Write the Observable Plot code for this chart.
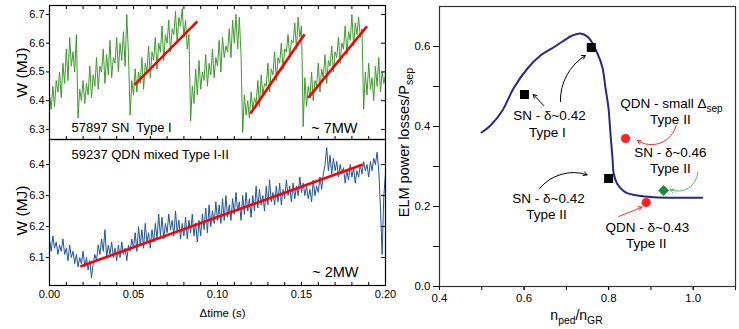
<!DOCTYPE html>
<html><head><meta charset="utf-8">
<script src="https://cdn.jsdelivr.net/npm/d3@7"></script>
<script src="https://cdn.jsdelivr.net/npm/@observablehq/plot@0.6"></script>
<style>
html,body{margin:0;padding:0;background:#fff;}
#chart{position:relative;width:739px;height:329px;overflow:hidden;font-family:"Liberation Sans",Arial,Helvetica,sans-serif;}
#chart svg{position:absolute;overflow:visible;}
</style></head><body><div id="chart"></div>
<script>
// ---------------- data ----------------
// stored energy traces, sampled every 1 ms from Δtime = 0
const sampleStep = 0.001;
const wTypeI = [
 6.42,6.37,6.45,6.38,6.47,6.43,6.50,6.41,6.53,6.46,6.58,6.47,6.62,6.52,6.57,6.50,6.63,6.34,
 6.44,6.40,6.47,6.39,6.46,6.42,6.52,6.41,6.49,6.45,6.55,6.44,6.52,6.50,6.58,6.46,6.56,6.49,6.61,6.48,6.55,6.53,6.62,6.50,6.60,6.54,6.64,6.52,6.70,6.56,
 6.35,
 6.47,6.42,6.51,6.43,6.50,6.46,6.55,6.44,6.53,6.50,6.59,6.48,6.57,6.54,6.62,6.51,6.60,6.57,6.66,6.54,6.63,6.60,6.68,6.57,6.65,6.63,6.71,6.60,6.69,6.66,6.72,6.62,6.68,6.58,6.63,
 6.33,
 6.45,6.39,6.51,6.42,6.54,6.44,6.50,6.47,6.56,6.45,6.53,6.49,6.58,6.48,6.55,6.52,6.61,6.50,6.62,6.55,6.59,6.57,6.65,6.55,6.68,6.60,6.70,6.58,6.69,6.56,
 6.29,
 6.42,6.35,6.40,6.34,6.43,6.37,6.41,6.39,6.47,6.38,6.49,6.42,6.46,6.45,6.53,6.43,6.51,6.49,6.57,6.47,6.55,6.53,6.60,6.51,6.58,6.57,6.63,6.55,6.61,6.60,6.67,6.58,6.69,6.62,6.66,
 6.31,
 6.48,6.38,6.45,6.41,6.50,6.40,6.47,6.45,6.53,6.43,6.51,6.48,6.56,6.46,6.54,6.52,6.59,6.50,6.57,6.55,6.62,6.53,6.60,6.58,6.66,6.56,6.64,6.61,6.70,6.59,6.67,6.63,6.69,6.62,6.65,
 6.37,
 6.50,6.42,6.53,6.44,6.48,6.40,6.52,6.45,6.55,6.43,6.50,6.46,6.49];
const wMixed = [
 6.16,6.12,6.17,6.13,6.15,6.11,6.14,6.12,6.16,6.11,
 6.13,6.09,6.14,6.10,6.12,6.08,6.11,6.07,6.10,6.08,
 6.12,6.07,6.10,6.06,6.09,6.035,6.08,6.11,6.09,6.14,
 6.11,6.16,6.12,6.19,6.10,6.14,6.11,6.15,6.10,6.13,
 6.09,6.14,6.10,6.15,6.11,6.13,6.09,6.14,6.12,6.16,
 6.13,6.18,6.12,6.20,6.14,6.19,6.13,6.21,6.15,6.18,
 6.13,6.19,6.15,6.21,6.16,6.24,6.17,6.23,6.16,6.21,
 6.18,6.24,6.19,6.22,6.17,6.25,6.18,6.22,6.16,6.21,
 6.17,6.23,6.16,6.22,6.18,6.24,6.17,6.21,6.15,6.22,
 6.17,6.24,6.19,6.26,6.18,6.27,6.20,6.25,6.21,6.28,
 6.22,6.27,6.21,6.29,6.22,6.30,6.23,6.27,6.22,6.29,
 6.24,6.31,6.25,6.28,6.22,6.30,6.24,6.31,6.25,6.29,
 6.23,6.30,6.25,6.33,6.26,6.32,6.27,6.30,6.25,6.33,
 6.27,6.35,6.28,6.31,6.27,6.33,6.28,6.34,6.27,6.32,
 6.29,6.35,6.30,6.33,6.28,6.34,6.29,6.33,6.30,6.36,
 6.31,6.34,6.30,6.33,6.29,6.32,6.28,6.35,6.30,6.33,
 6.31,6.36,6.32,6.37,6.40,6.455,6.38,6.43,6.37,6.42,
 6.38,6.41,6.36,6.40,6.37,6.39,6.34,6.38,6.35,6.40,
 6.36,6.39,6.34,6.38,6.36,6.40,6.37,6.41,6.38,6.40,
 6.36,6.41,6.38,6.42,6.40,6.44,6.38,6.26,6.11,6.30,
 6.37];
// linear fits (start/end time and energy)
const fitTypeIStartT = [0.0506, 0.1196, 0.154];
const fitTypeIStartW = [6.455, 6.355, 6.41];
const fitTypeIEndT   = [0.088, 0.1518, 0.189];
const fitTypeIEndW   = [6.676, 6.631, 6.659];
const fitMixedStartT = [0.0183], fitMixedStartW = [6.071];
const fitMixedEndT   = [0.1865], fitMixedEndW   = [6.40];
const timeTickLabels = [0, 0.05, 0.10, 0.15, 0.20];
const wTicksTop = [6.3, 6.4, 6.5, 6.6, 6.7];
const wTicksBottom = [6.1, 6.2, 6.3, 6.4];
const panelTopText = "57897 SN\u00a0 Type I", panelTopPower = "~ 7MW";
const panelBottomText = "59237 QDN mixed Type I-II", panelBottomPower = "~ 2MW";

// right panel: ELM type boundary
const boundaryN = [0.4993,0.5206,0.5489,0.5749,0.6080,0.6388,0.6695,0.6908,0.7144,0.7333,0.7522,0.7735,0.7853,0.7924,0.7995,0.8043,0.8090,0.8121,0.8201,0.8319,0.8437,0.8674,0.9066,1.0210];
const boundaryLoss = [0.385,0.4025,0.44,0.495,0.545,0.5775,0.5975,0.6125,0.6275,0.6325,0.6225,0.5825,0.5475,0.4975,0.4475,0.3825,0.3225,0.2818,0.2568,0.2418,0.2333,0.2275,0.2233,0.2218];
const snN = [0.601, 0.759, 0.800], snLoss = [0.48, 0.5975, 0.27];
const qdnN = [0.840, 0.889], qdnLoss = [0.37, 0.21];
const sn46N = [0.930], sn46Loss = [0.24];
const lossTicks = [0, 0.2, 0.4, 0.6], lossMinor = [0.1, 0.3, 0.5];
const nTicks = [0.4, 0.6, 0.8, 1.0], nMinor = [0.4,0.5,0.6,0.7,0.8,0.9,1.0,1.1];

// ---------------- build ----------------
const FONT = '"Liberation Sans", Arial, Helvetica, sans-serif';
const green = wTypeI.map((w, i) => ({t: i * sampleStep, w}));
const blue = wMixed.map((w, i) => ({t: i * sampleStep, w}));
const fitsTop = fitTypeIStartT.map((t, i) => ({t1: t, w1: fitTypeIStartW[i], t2: fitTypeIEndT[i], w2: fitTypeIEndW[i]}));
const fitsBot = fitMixedStartT.map((t, i) => ({t1: t, w1: fitMixedStartW[i], t2: fitMixedEndT[i], w2: fitMixedEndW[i]}));
const minorT = d3.range(0, 21).map(i => i / 100);
const chart = document.getElementById("chart");

function subscripts(root) {
  d3.select(root).selectAll("text").each(function () {
    const s = this.textContent;
    if (!s || s.indexOf("_{") < 0) return;
    const sel = d3.select(this);
    sel.text(null);
    const parts = s.split(/(_\{[^}]*\})/).filter(p => p.length);
    let shifted = false;
    for (const p of parts) {
      const m = p.match(/^_\{(.*)\}$/);
      const t = sel.append("tspan");
      if (m) { if (!shifted) t.attr("dy", 4); t.attr("font-size", "0.74em").text(m[1]); shifted = true; }
      else { if (shifted) t.attr("dy", -4); t.text(p); shifted = false; }
    }
  });
}
function place(svg, left, top) {
  svg.style.left = left + "px"; svg.style.top = top + "px";
  subscripts(svg);
  chart.appendChild(svg);
}

const style = {fontFamily: FONT, fontSize: "11px", background: "transparent", color: "#000", overflow: "visible"};

// top-left panel
const pTop = Plot.plot({
  width: 400, height: 142, marginLeft: 49, marginRight: 15, marginTop: 5, marginBottom: 3,
  x: {domain: [0, 0.2]}, y: {domain: [6.265, 6.731]}, style,
  marks: [
    Plot.line(green, {x: "t", y: "w", stroke: "#3b9b2b", strokeWidth: 1}),
    Plot.link(fitsTop, {x1: "t1", y1: "w1", x2: "t2", y2: "w2", stroke: "#ff0000", strokeWidth: 2.6}),
    Plot.axisY(wTicksTop, {anchor: "left", tickSize: 3, tickPadding: 2, tickFormat: d => d.toFixed(1), label: null, fontSize: 11}),
    Plot.axisY(wTicksTop, {anchor: "right", tickSize: -5, fill: "none", label: null}),
    Plot.axisX(minorT, {anchor: "top", tickSize: -3, fill: "none", label: null}),
    Plot.axisX(minorT, {anchor: "bottom", tickSize: -3, fill: "none", label: null}),
    Plot.frame({stroke: "#000", strokeWidth: 1.2}),
    Plot.text(["W (MJ)"], {text: d => d, frameAnchor: "left", textAnchor: "middle", lineAnchor: "middle", rotate: -90, dx: -27, fontSize: 15.5}),
    Plot.text([panelTopText], {text: d => d, frameAnchor: "bottom-left", textAnchor: "start", lineAnchor: "middle", dx: 22, dy: -12, fontSize: 13}),
    Plot.text([panelTopPower], {text: d => d, frameAnchor: "bottom-right", textAnchor: "end", lineAnchor: "middle", dx: -28, dy: -11, fontSize: 14.5})
  ]
});
place(pTop, 0, 0);

// bottom-left panel
const pBot = Plot.plot({
  width: 400, height: 195, marginLeft: 49, marginRight: 15, marginTop: 5, marginBottom: 44,
  x: {domain: [0, 0.2]}, y: {domain: [6.0097, 6.481]}, style,
  marks: [
    Plot.line(blue, {x: "t", y: "w", stroke: "#1a55a6", strokeWidth: 1}),
    Plot.link(fitsBot, {x1: "t1", y1: "w1", x2: "t2", y2: "w2", stroke: "#ff0000", strokeWidth: 2.6}),
    Plot.axisY(wTicksBottom, {anchor: "left", tickSize: 3, tickPadding: 2, tickFormat: d => d.toFixed(1), label: null, fontSize: 11}),
    Plot.axisY(wTicksBottom, {anchor: "right", tickSize: -5, fill: "none", label: null}),
    Plot.axisX(minorT, {anchor: "bottom", tickSize: -3, fill: "none", label: null}),
    Plot.axisX(timeTickLabels, {anchor: "bottom", tickSize: 0, tickPadding: 5, tickFormat: d => d.toFixed(2), label: null, fontSize: 11}),
    Plot.frame({stroke: "#000", strokeWidth: 1.2}),
    Plot.text(["W (MJ)"], {text: d => d, frameAnchor: "left", textAnchor: "middle", lineAnchor: "middle", rotate: -90, dx: -27, dy: -2, fontSize: 15.5}),
    Plot.text(["\u0394time (s)"], {text: d => d, frameAnchor: "bottom", textAnchor: "middle", lineAnchor: "middle", dx: 5, dy: 28, fontSize: 11.5}),
    Plot.text([panelBottomText], {text: d => d, frameAnchor: "top-left", textAnchor: "start", lineAnchor: "middle", dx: 22, dy: 15, fontSize: 13}),
    Plot.text([panelBottomPower], {text: d => d, frameAnchor: "bottom-right", textAnchor: "end", lineAnchor: "middle", dx: -27, dy: -13, fontSize: 14.5})
  ]
});
place(pBot, 0, 134);

// right panel
const boundary = boundaryN.map((n, i) => ({n, l: boundaryLoss[i]}));
const toPts = (N, L) => N.map((n, i) => ({n, l: L[i]}));
const arrows = [
  {x1: 0.6466, y1: 0.4525, x2: 0.6217, y2: 0.48, bend: 0, color: "#000"},
  {x1: 0.686, y1: 0.4625, x2: 0.745, y2: 0.5775, bend: 30, color: "#000"},
  {x1: 0.9596, y1: 0.4025, x2: 0.8683, y2: 0.365, bend: 55, color: "#ff2a2a"},
  {x1: 1.0107, y1: 0.2858, x2: 0.946, y2: 0.2418, bend: 55, color: "#5cb85c"},
  {x1: 0.6364, y1: 0.2443, x2: 0.749, y2: 0.2793, bend: 35, color: "#000"},
  {x1: 0.824, y1: 0.175, x2: 0.879, y2: 0.1983, bend: 0, color: "#ff2a2a"}
];
const labels = [
  {text: "SN - \u03b4~0.42", n: 0.660, l: 0.4275},
  {text: "Type I", n: 0.655, l: 0.385},
  {text: "QDN - small \u0394_{sep}", n: 0.9485, l: 0.456},
  {text: "Type II", n: 0.946, l: 0.4175},
  {text: "SN - \u03b4~0.46", n: 0.946, l: 0.3335},
  {text: "Type II", n: 0.946, l: 0.295},
  {text: "SN - \u03b4~0.42", n: 0.6577, l: 0.2185},
  {text: "Type II", n: 0.653, l: 0.18},
  {text: "QDN - \u03b4~0.43", n: 0.8917, l: 0.146},
  {text: "Type II", n: 0.889, l: 0.1075}
];
const pRight = Plot.plot({
  width: 349, height: 329, marginLeft: 49, marginRight: 4, marginTop: 6, marginBottom: 43,
  x: {domain: [0.4, 1.1]}, y: {domain: [0, 0.7]}, style,
  marks: [
    Plot.line(boundary, {x: "n", y: "l", stroke: "#29278f", strokeWidth: 2, curve: "catmull-rom"}),
    ...arrows.map(a => Plot.arrow([a], {x1: "x1", y1: "y1", x2: "x2", y2: "y2", bend: a.bend, stroke: a.color, strokeWidth: 1, headLength: 6})),
    Plot.dot(toPts(snN, snLoss), {x: "n", y: "l", symbol: "square", r: 5.1, fill: "#000", stroke: "none"}),
    Plot.dot(toPts(qdnN, qdnLoss), {x: "n", y: "l", symbol: "circle", r: 4.6, fill: "#ff2020", stroke: "none"}),
    Plot.dot(toPts(sn46N, sn46Loss), {x: "n", y: "l", symbol: "diamond2", r: 5, fill: "#22883a", stroke: "none"}),
    Plot.axisY(lossTicks, {anchor: "left", tickSize: 6, tickPadding: 3, tickFormat: d => d.toFixed(1), label: null, fontSize: 11.5}),
    Plot.axisY(lossMinor, {anchor: "left", tickSize: 6, fill: "none", label: null}),
    Plot.axisX(nMinor, {anchor: "bottom", tickSize: 4, fill: "none", label: null}),
    Plot.axisX(nTicks, {anchor: "bottom", tickSize: 4, tickPadding: 3, tickFormat: d => d.toFixed(1), label: null, fontSize: 11.5}),
    Plot.frame({stroke: "#333", strokeWidth: 1.2}),
    Plot.text(labels, {x: "n", y: "l", text: "text", fontSize: 13.5, textAnchor: "middle", lineAnchor: "middle"}),
    Plot.text(["ELM power losses/P_{sep}"], {text: d => d, frameAnchor: "left", textAnchor: "middle", lineAnchor: "middle", rotate: -90, dx: -35, dy: -4, fontSize: 14.5}),
    Plot.text(["n_{ped}/n_{GR}"], {text: d => d, frameAnchor: "bottom", textAnchor: "middle", lineAnchor: "middle", dx: -11, dy: 29, fontSize: 14})
  ]
});
place(pRight, 390, 0);
</script></body></html>
